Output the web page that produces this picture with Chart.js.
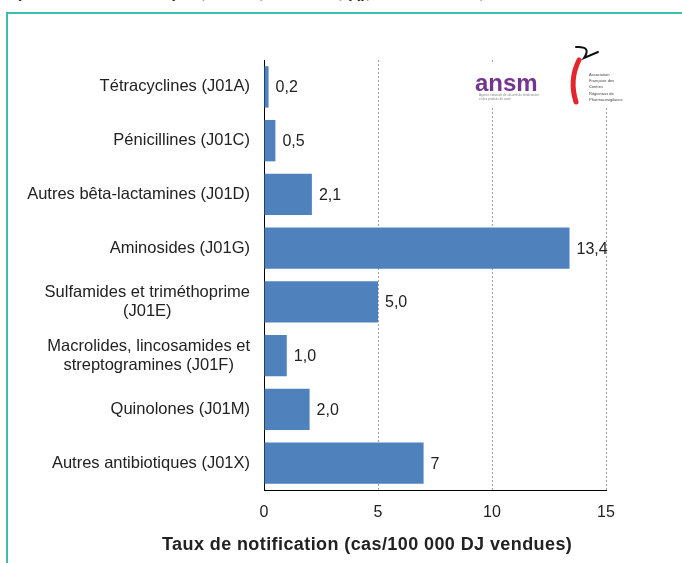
<!DOCTYPE html>
<html>
<head>
<meta charset="utf-8">
<script src="https://cdn.jsdelivr.net/npm/chart.js@4/dist/chart.umd.min.js"></script>
<style>
  html,body{margin:0;padding:0;background:#fff;width:682px;height:563px;overflow:hidden;}
  #frame{position:absolute;left:6px;top:12px;width:700px;height:600px;border-left:2px solid #3dbdb0;border-top:2px solid #3dbdb0;}
  #ttl{position:absolute;left:18px;top:-16px;font:bold 15px "Liberation Sans",Arial,sans-serif;color:#222;white-space:nowrap;}
  #wrap{position:absolute;left:0;top:0;width:682px;height:563px;}
</style>
</head>
<body>
<div id="ttl">par classe d'antibiotiques, France, 2010-2011, (q), de 2000 à 2012, 2011 n° 2012</div>
<div id="frame"></div>
<div id="wrap"><canvas id="c" width="682" height="563"></canvas></div>
<script>
const categories = [
  ["Tétracyclines (J01A)"],
  ["Pénicillines (J01C)"],
  ["Autres bêta-lactamines (J01D)"],
  ["Aminosides (J01G)"],
  ["Sulfamides et triméthoprime", "(J01E)"],
  ["Macrolides, lincosamides et", "streptogramines (J01F)"],
  ["Quinolones (J01M)"],
  ["Autres antibiotiques (J01X)"]
];
const values = [0.2, 0.5, 2.1, 13.4, 5.0, 1.0, 2.0, 7];
const valueLabels = ["0,2", "0,5", "2,1", "13,4", "5,0", "1,0", "2,0", "7"];
const xTicks = [0, 5, 10, 15];
const xTitle = "Taux de notification (cas/100 000 DJ vendues)";

const FONT = '"Liberation Sans", Arial, sans-serif';

const labelPlugin = {
  id: 'labels',
  afterDraw(chart) {
    const ctx = chart.ctx;
    const y = chart.scales.y, x = chart.scales.x;
    ctx.save();
    ctx.fillStyle = '#222';
    // category labels: block right-aligned, lines centered within block
    ctx.font = '16.5px ' + FONT;
    ctx.textBaseline = 'middle';
    ctx.textAlign = 'center';
    const lh = 19;
    categories.forEach((lines, i) => {
      const cy = y.getPixelForValue(i);
      const maxW = Math.max(...lines.map(l => ctx.measureText(l).width));
      const cx = y.right - 14 - maxW / 2;
      lines.forEach((l, k) => {
        ctx.fillText(l, cx, cy + (k - (lines.length - 1) / 2) * lh);
      });
    });
    // value labels
    ctx.font = '16px ' + FONT;
    ctx.textAlign = 'left';
    const meta = chart.getDatasetMeta(0);
    meta.data.forEach((bar, i) => {
      ctx.fillText(valueLabels[i], bar.x + 7, bar.y + 1);
    });
    // axis title
    ctx.font = 'bold 18px ' + FONT;
    const w0 = ctx.measureText(xTitle).width;
    const ls = Math.max(0, (410 - w0) / (xTitle.length - 1));
    ctx.letterSpacing = ls.toFixed(2) + 'px';
    ctx.textAlign = 'left';
    ctx.fillText(xTitle, 162, 545);
    ctx.letterSpacing = '0px';
    // logos
    ctx.fillStyle = '#fff';
    ctx.fillRect(466, 64, 160, 42);
    ctx.fillStyle = '#74358f';
    ctx.font = 'bold 24px ' + FONT;
    ctx.textAlign = 'left';
    ctx.textBaseline = 'alphabetic';
    ctx.fillText('ansm', 475, 91);
    ctx.fillStyle = '#888';
    ctx.font = '3px ' + FONT;
    ctx.fillText('Agence nationale de sécurité du médicament', 479, 96);
    ctx.fillText('et des produits de santé', 479, 99.5);
    // red logo
    ctx.fillStyle = '#fff';
    ctx.fillRect(568, 42, 60, 66);
    ctx.strokeStyle = '#e3262b';
    ctx.lineWidth = 5;
    ctx.lineCap = 'round';
    ctx.beginPath();
    ctx.moveTo(579, 60);
    ctx.quadraticCurveTo(569, 80, 576, 102);
    ctx.stroke();
    ctx.strokeStyle = '#111';
    ctx.lineWidth = 2;
    ctx.beginPath();
    ctx.moveTo(576, 47);
    ctx.quadraticCurveTo(592, 46, 584, 58);
    ctx.lineTo(598, 52);
    ctx.stroke();
    ctx.font = '4px ' + FONT;
    ctx.fillStyle = '#444';
    ['Association', 'Française des', 'Centres', 'Régionaux de', 'Pharmacovigilance'].forEach((t, k) => {
      ctx.fillText(t, 589, 76 + k * 6.2);
    });
    ctx.restore();
  }
};

new Chart(document.getElementById('c'), {
  type: 'bar',
  data: {
    labels: categories,
    datasets: [{
      data: values,
      backgroundColor: '#4f81bd',
      borderWidth: 0,
      barPercentage: 0.77,
      categoryPercentage: 1
    }]
  },
  options: {
    indexAxis: 'y',
    responsive: false,
    animation: false,
    events: [],
    layout: { padding: { left: 0, top: 60, right: 76, bottom: 8 } },
    plugins: { legend: { display: false }, tooltip: { enabled: false } },
    scales: {
      y: {
        afterFit(s) { s.width = 264; },
        ticks: { display: false },
        grid: { display: false, drawTicks: false },
        border: { display: true, color: '#000', width: 1 }
      },
      x: {
        min: 0, max: 15,
        afterBuildTicks(s) { s.ticks = xTicks.map(v => ({ value: v })); },
        afterFit(s) { s.height = 65; },
        ticks: { color: '#222', font: { size: 16, family: FONT }, padding: 13 },
        grid: {
          drawTicks: false,
          color: ctx => (ctx.tick && ctx.tick.value === 0) ? 'rgba(0,0,0,0)' : '#a0a0a0',
          lineWidth: 1
        },
        border: { display: true, color: '#000', width: 1, dash: [2, 2] },
        title: { display: false, text: xTitle }
      }
    }
  },
  plugins: [labelPlugin]
});
</script>
</body>
</html>
